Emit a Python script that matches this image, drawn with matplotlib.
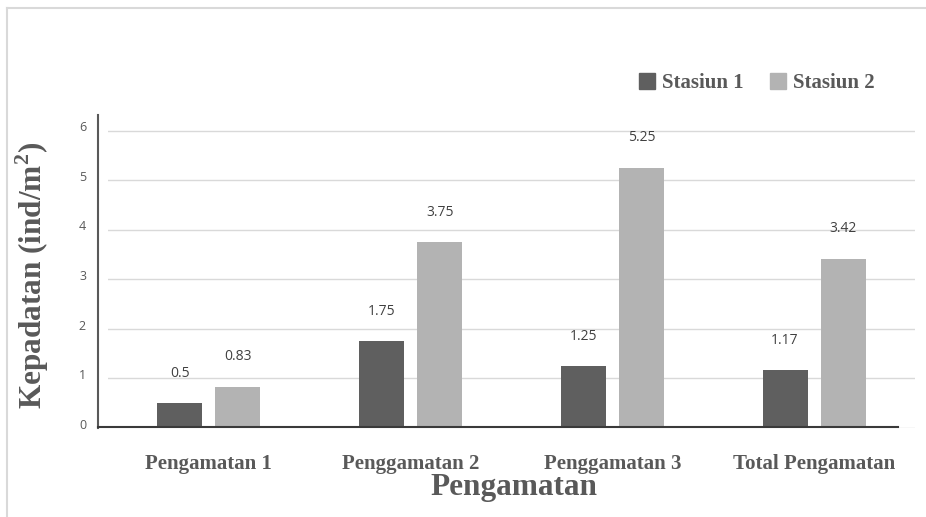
import numpy as np
import matplotlib.pyplot as plt
import matplotlib.transforms as mtransforms
from matplotlib.lines import Line2D
from matplotlib.patches import Patch

plt.rcParams['mathtext.fontset'] = 'custom'
plt.rcParams['mathtext.rm'] = 'Liberation Serif'
plt.rcParams['mathtext.bf'] = 'Liberation Serif:bold'

categories = ['Pengamatan 1', 'Penggamatan 2', 'Penggamatan 3', 'Total Pengamatan']
series_names = ['Stasiun 1', 'Stasiun 2']
stasiun1 = [0.5, 1.75, 1.25, 1.17]
stasiun2 = [0.83, 3.75, 5.25, 3.42]
yticks = [0, 1, 2, 3, 4, 5, 6]

dark = '#5f5f5f'
light = '#b3b3b3'
grey_text = '#595959'
grid_col = '#d9d9d9'

W, H = 926, 517
fig = plt.figure(figsize=(W / 100, H / 100), dpi=100)

# axes box in pixel terms: x 108..915, y 115..428 (from top)
ax = fig.add_axes([108 / W, 1 - 428 / H, (915 - 108) / W, (428 - 115) / H])

x = np.arange(len(categories))
bw = 0.223
off = 0.144
b1 = ax.bar(x - off, stasiun1, bw, color=dark, zorder=2)
b2 = ax.bar(x + off, stasiun2, bw, color=light, zorder=2)

for bars, vals in ((b1, stasiun1), (b2, stasiun2)):
    for rect, v in zip(bars, vals):
        ax.annotate(f'{v:g}', (rect.get_x() + rect.get_width() / 2, v),
                    xytext=(0, 30), textcoords='offset pixels',
                    ha='center', va='center', fontsize=10,
                    family='Open Sans', color='#404040', clip_on=False)

ax.set_xlim(-0.5, len(categories) - 0.5)
ax.set_ylim(0, 6.32)
ax.set_yticks(yticks)
ax.yaxis.grid(True, color=grid_col, lw=1.0)
ax.set_axisbelow(True)

for s in ('top', 'right', 'bottom'):
    ax.spines[s].set_visible(False)
ax.spines['left'].set_position(('outward', 7.2))
ax.spines['left'].set_color(grey_text)
ax.spines['left'].set_linewidth(1.5)

ax.tick_params(axis='y', length=0, pad=8.6, labelsize=9, labelcolor=grey_text)
# value labels sit a little above their gridlines
lift = mtransforms.ScaledTranslation(0, 3.2 / 72, fig.dpi_scale_trans)
for lab in ax.get_yticklabels():
    lab.set_family('Open Sans')
    lab.set_transform(lab.get_transform() + lift)
ax.tick_params(axis='x', length=0, pad=19, labelsize=15, labelcolor=grey_text)
ax.set_xticks(x)
ax.set_xticklabels(categories, family='Liberation Serif', fontweight='bold')

# baseline along the category axis
fig.add_artist(Line2D([98 / W, 898 / W], [1 - 427 / H, 1 - 427 / H],
                      color='#3a3a3a', lw=1.5))

# chart frame (top and left edges)
fig.add_artist(Line2D([6.5 / W, 6.5 / W], [0, 1 - 8 / H], color=grid_col, lw=1.5))
fig.add_artist(Line2D([6.5 / W, 1], [1 - 8 / H, 1 - 8 / H], color=grid_col, lw=1.5))

fig.text(514 / W, 1 - 488 / H, 'Pengamatan', ha='center', va='center',
         family='Liberation Serif', fontweight='bold', fontsize=22.5,
         color=grey_text)
fig.text(32 / W, 1 - 275 / H, 'Kepadatan (ind/m$^{\\mathbf{2}}$)', rotation=90,
         ha='center', va='center', family='Liberation Serif',
         fontweight='bold', fontsize=22.5, color=grey_text)

handles = [Patch(color=dark), Patch(color=light)]
leg = fig.legend(handles, series_names, loc='center left',
                 bbox_to_anchor=(639 / W, 1 - 83 / H), ncol=2, frameon=False,
                 borderpad=0, borderaxespad=0, handlelength=0.77,
                 handleheight=0.77, handletextpad=0.34, columnspacing=1.25,
                 prop={'family': 'Liberation Serif', 'weight': 'bold', 'size': 15})
for t in leg.get_texts():
    t.set_color(grey_text)

fig.savefig('out.png', dpi=100)
